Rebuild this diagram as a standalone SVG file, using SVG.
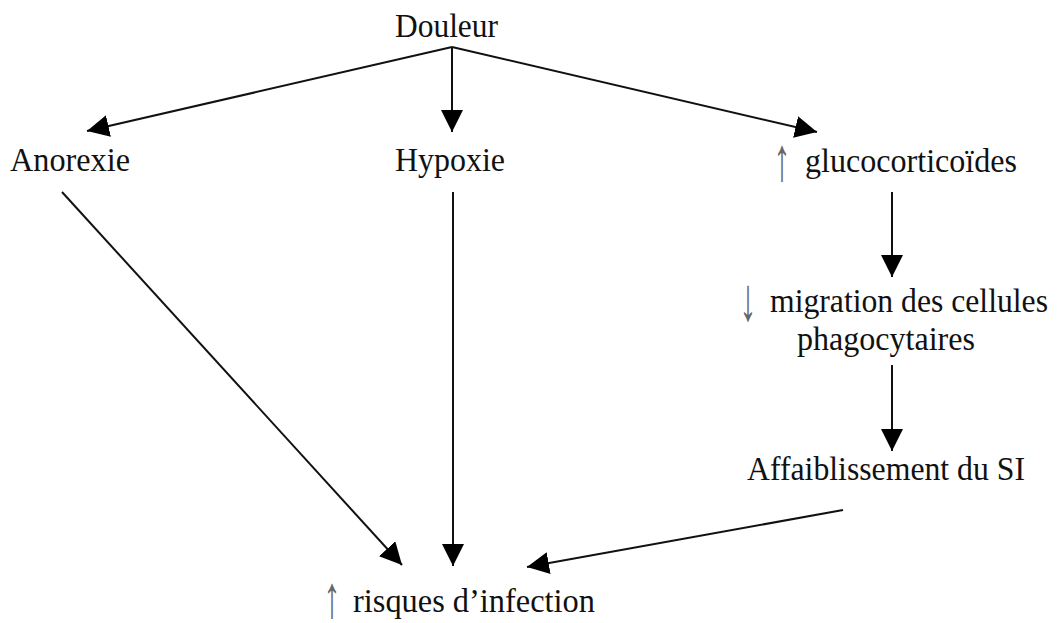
<svg xmlns="http://www.w3.org/2000/svg" width="1061" height="623" viewBox="0 0 1061 623">
  <style>
    .lbl { font-family: "Liberation Serif", "Times New Roman", serif; font-size: 34px; fill: #111; }
    .sym { font-family: "Liberation Serif", "DejaVu Serif", serif; font-size: 34px; fill: #666; text-anchor: middle; }
    .edge { stroke: #111; stroke-width: 2; fill: none; marker-end: url(#head); }
  </style>
  <defs>
    <marker id="head" viewBox="0 0 22 22" refX="22" refY="11" markerWidth="22" markerHeight="22" markerUnits="userSpaceOnUse" orient="auto">
      <path d="M0,0 L22,11 L0,22 Z" fill="#000"/>
    </marker>
  </defs>
  <rect width="1061" height="623" fill="#fff"/>

  <g id="connectors">
    <line class="edge" x1="452" y1="47" x2="87" y2="131"/>
    <line class="edge" x1="452" y1="47" x2="452" y2="132"/>
    <line class="edge" x1="452" y1="47" x2="817" y2="132"/>
    <line class="edge" x1="892" y1="192" x2="892" y2="277"/>
    <line class="edge" x1="892" y1="365" x2="892" y2="451"/>
    <line class="edge" x1="62" y1="192" x2="402" y2="565"/>
    <line class="edge" x1="453" y1="192" x2="453" y2="566"/>
    <line class="edge" x1="843" y1="510" x2="527" y2="567"/>
  </g>

  <g id="douleur">
    <text class="lbl" x="395" y="37" textLength="103" lengthAdjust="spacingAndGlyphs">Douleur</text>
  </g>
  <g id="anorexie">
    <text class="lbl" x="10" y="171" textLength="120" lengthAdjust="spacingAndGlyphs">Anorexie</text>
  </g>
  <g id="hypoxie">
    <text class="lbl" x="395" y="171" textLength="110" lengthAdjust="spacingAndGlyphs">Hypoxie</text>
  </g>
  <g id="glucocorticoides">
    <text class="sym" transform="translate(782,180) scale(1,1.8)">↑</text>
    <text class="lbl" x="805" y="172" textLength="212" lengthAdjust="spacingAndGlyphs">glucocorticoïdes</text>
  </g>
  <g id="migration">
    <text class="sym" transform="translate(748,320) scale(1,1.8)">↓</text>
    <text class="lbl" x="770" y="312" textLength="278" lengthAdjust="spacingAndGlyphs">migration des cellules</text>
    <text class="lbl" x="797" y="350" textLength="178" lengthAdjust="spacingAndGlyphs">phagocytaires</text>
  </g>
  <g id="affaiblissement">
    <text class="lbl" x="747" y="480" textLength="278" lengthAdjust="spacingAndGlyphs">Affaiblissement du SI</text>
  </g>
  <g id="risques">
    <text class="sym" transform="translate(332,617) scale(1,1.75)">↑</text>
    <text class="lbl" x="353" y="612" textLength="242" lengthAdjust="spacingAndGlyphs">risques d’infection</text>
  </g>
</svg>
